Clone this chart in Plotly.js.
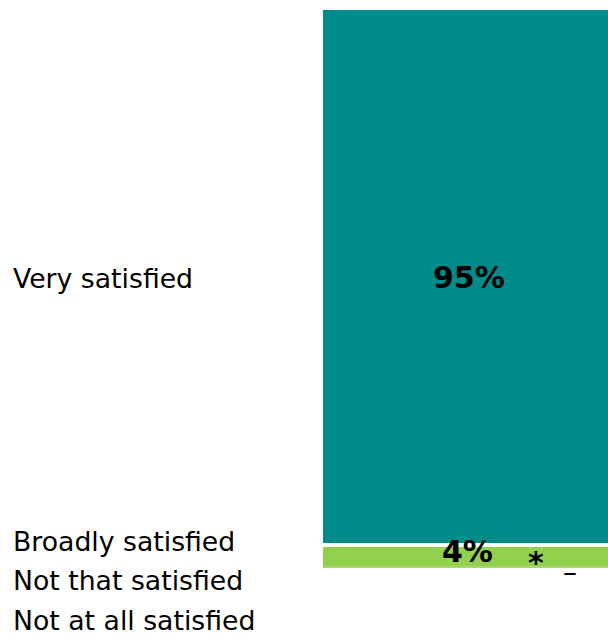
<!DOCTYPE html>
<html>
<head>
<meta charset="utf-8">
<script src="https://cdn.plot.ly/plotly-3.0.1.min.js"></script>
<style>html,body{margin:0;padding:0;background:#fff;}#chart{width:608px;height:637px;}</style>
</head>
<body>
<div id="chart"></div>
<script>
// Data (stacked from bottom to top)
const categories = ["Not at all satisfied", "Not that satisfied", "Broadly satisfied", "Very satisfied"];
const values = [0, 0.3, 3.7, 95.4];
const valueLabels = ["–", "*", "4%", "95%"];
const colors = ["#5a8a3a", "#a6d86a", "#92d050", "#008b8b"];

const lineWidths = [0, 0, 0, 4];
const traces = categories.map((c, i) => ({
  type: "bar",
  x: [0],
  y: [values[i]],
  name: c,
  marker: {color: colors[i], line: {color: "#ffffff", width: lineWidths[i]}},
  width: 1,
  hoverinfo: "skip",
  showlegend: false
}));

// cumulative positions for labels
const cum = [];
let acc = 0;
values.forEach(v => { cum.push(acc + v / 2); acc += v; });
const total = acc;

const W = 608, H = 637, ML = 323, MR = 0, MT = 8, MB = 69;
const PW = W - ML - MR, PH = H - MT - MB;

const fontFam = "DejaVu Sans, Verdana, sans-serif";
const annotations = [];
// value labels
const xOff = [0.361, 0.244, 0, 0];
const xShift = [0, 0, 2, 3];
const yShift = [-4, 5, 4, -1];
const valueSizes = [28, 30, 30, 30];
valueLabels.forEach((t, i) => {
  annotations.push({
    x: xOff[i], y: cum[i], xref: "x", yref: "y", text: i === 0 ? t : "<b>" + t + "</b>",
    showarrow: false, xshift: xShift[i], yshift: yShift[i],
    font: {family: fontFam, size: valueSizes[i], color: "#000"}
  });
});
// category labels on the left (segment centres, spread apart to avoid overlap)
const labelPx = [620, 580, 541, 278];
categories.forEach((c, i) => {
  annotations.push({
    x: (11 - ML) / PW, y: (H - MB - labelPx[i]) / PH, xref: "paper", yref: "paper",
    text: c, showarrow: false, xanchor: "left", yanchor: "middle",
    font: {family: fontFam, size: 26.7, color: "#000"}
  });
});

const d = 2 / PW;
const layout = {
  width: W, height: H,
  margin: {l: ML, r: MR, t: MT, b: MB, pad: 0},
  barmode: "stack",
  bargap: 0,
  paper_bgcolor: "#fff", plot_bgcolor: "#fff",
  xaxis: {range: [-0.5 + d, 0.5 - d], visible: false, fixedrange: true},
  yaxis: {range: [0, total], visible: false, fixedrange: true},
  annotations: annotations,
  showlegend: false
};

Plotly.newPlot("chart", traces, layout, {displayModeBar: false, staticPlot: true});
</script>
</body>
</html>
